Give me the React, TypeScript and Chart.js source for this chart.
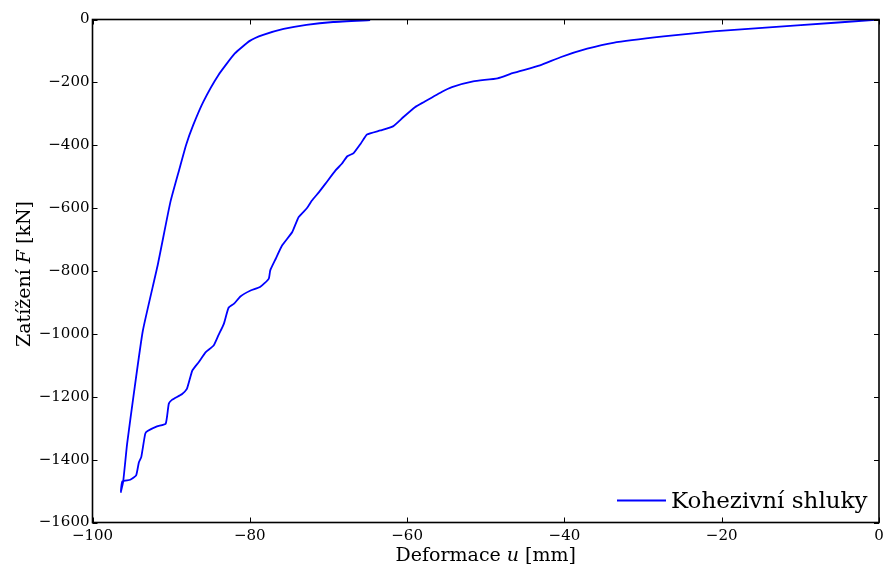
import React, { useEffect, useRef } from "react";
import { Chart, registerables } from "chart.js";

Chart.register(...registerables);

// Loading branch (from origin to maximum deformation)
const loadingU = [
  0, -10.4, -21.1, -27.4, -33.8, -37.1, -40.5, -43.1, -46.5, -48.5, -51.6, -54.3,
  -55.5, -57.9, -59.0, -60.5, -61.8, -63.4, -65.1, -65.9, -66.8, -67.6, -68.3,
  -69.1, -70.4, -71.2, -72.1, -72.7, -73.8, -74.6, -75.9, -76.7, -77.4, -77.6,
  -78.7, -79.9, -81.2, -82.0, -82.7, -83.3, -84.0, -84.6, -85.6, -86.5, -87.3,
  -88.0, -88.6, -89.9, -90.3, -90.7, -91.8, -93.0, -93.3, -93.8, -94.1, -94.45,
  -95.2, -96.2, -96.4,
];
const loadingF = [
  0, -19, -38, -54, -74, -93, -120, -146, -170, -187, -197, -215,
  -229, -263, -279, -311, -340, -353, -366, -395, -425, -435, -459,
  -480, -523, -549, -576, -599, -629, -676, -719, -761, -798, -825,
  -851, -862, -881, -904, -917, -968, -1005, -1037, -1058, -1090, -1116,
  -1175, -1191, -1210, -1222, -1286, -1294, -1309, -1318, -1392, -1408, -1450,
  -1464, -1469, -1503,
];
// Unloading branch (back towards zero load)
const unloadingU = [
  -96.1, -95.6, -94.75, -93.6, -91.7, -90.1, -89.0, -88.1, -87.2, -85.9, -84.0,
  -81.9, -80.0, -78.3, -75.7, -72.8, -69.4, -64.7,
];
const unloadingF = [
  -1470, -1350, -1191, -990, -780, -581, -480, -399, -336, -261, -177,
  -108, -68, -49, -30, -17, -8, -2,
];

const seriesLabel = "Kohezivní shluky";
const xTickValues = [-100, -80, -60, -40, -20, 0];
const yTickValues = [-1600, -1400, -1200, -1000, -800, -600, -400, -200, 0];
const xTitleRuns = [
  { text: "Deformace ", italic: false },
  { text: "u", italic: true },
  { text: " [mm]", italic: false },
];
const yTitleRuns = [
  { text: "Zatížení ", italic: false },
  { text: "F", italic: true },
  { text: " [kN]", italic: false },
];

const FONT = "'DejaVu Serif', serif";
const LINE_COLOR = "#0000ff";

function fmt(v: number) {
  return v < 0 ? "\u2212" + Math.abs(v) : String(v);
}

function drawRuns(ctx: CanvasRenderingContext2D, runs: { text: string; italic: boolean }[], cx: number, y: number, size: number) {
  const widths = runs.map((r) => {
    ctx.font = `${r.italic ? "italic " : ""}${size}px ${FONT}`;
    return ctx.measureText(r.text).width;
  });
  const total = widths.reduce((a, b) => a + b, 0);
  let x = cx - total / 2;
  ctx.textAlign = "left";
  ctx.textBaseline = "alphabetic";
  runs.forEach((r, i) => {
    ctx.font = `${r.italic ? "italic " : ""}${size}px ${FONT}`;
    ctx.fillText(r.text, x, y);
    x += widths[i];
  });
}

const framePlugin = {
  id: "mplFrame",
  afterDatasetsDraw(chart: any) {
    const { ctx, chartArea: a, scales } = chart;
    const xs = scales.x;
    const ys = scales.y;
    ctx.save();
    ctx.strokeStyle = "#000";
    ctx.lineWidth = 1;
    const tl = 5;
    ctx.beginPath();
    for (const v of xTickValues) {
      const p = Math.round(xs.getPixelForValue(v)) + 0.5;
      ctx.moveTo(p, a.bottom);
      ctx.lineTo(p, a.bottom - tl);
      ctx.moveTo(p, a.top);
      ctx.lineTo(p, a.top + tl);
    }
    for (const v of yTickValues) {
      const p = Math.round(ys.getPixelForValue(v)) + 0.5;
      ctx.moveTo(a.left, p);
      ctx.lineTo(a.left + tl, p);
      ctx.moveTo(a.right, p);
      ctx.lineTo(a.right - tl, p);
    }
    ctx.stroke();
    ctx.lineWidth = 1.6;
    ctx.strokeRect(a.left, a.top, a.right - a.left, a.bottom - a.top);

    // legend (bottom-right, no frame)
    const ly = a.bottom - 22;
    ctx.strokeStyle = LINE_COLOR;
    ctx.lineWidth = 1.8;
    ctx.beginPath();
    ctx.moveTo(a.right - 262, ly);
    ctx.lineTo(a.right - 213, ly);
    ctx.stroke();
    ctx.fillStyle = "#000";
    ctx.font = `23px ${FONT}`;
    ctx.textAlign = "left";
    ctx.textBaseline = "alphabetic";
    ctx.fillText(seriesLabel, a.right - 208, a.bottom - 15);

    // axis titles
    drawRuns(ctx, xTitleRuns, (a.left + a.right) / 2, 561, 19);
    ctx.translate(30, (a.top + a.bottom) / 2 + 3);
    ctx.rotate(-Math.PI / 2);
    drawRuns(ctx, yTitleRuns, 0, 0, 19);
    ctx.restore();
  },
};

export default function App() {
  const ref = useRef<HTMLCanvasElement | null>(null);
  useEffect(() => {
    if (!ref.current) return;
    const loading = loadingU.map((u, i) => ({ x: u, y: loadingF[i] }));
    const unloading = unloadingU.map((u, i) => ({ x: u, y: unloadingF[i] }));
    const chart = new Chart(ref.current, {
      type: "scatter",
      data: {
        datasets: [
          {
            label: seriesLabel,
            data: [...loading, ...unloading],
            showLine: true,
            borderColor: LINE_COLOR,
            backgroundColor: LINE_COLOR,
            borderWidth: 1.8,
            pointRadius: 0,
            pointHoverRadius: 0,
            tension: 0.15,
            fill: false,
          },
        ],
      },
      options: {
        responsive: false,
        animation: false,
        events: [],
        layout: { padding: { top: 19.5, right: 4, bottom: 0, left: 0 } },
        plugins: {
          legend: { display: false },
          tooltip: { enabled: false },
        },
        scales: {
          x: {
            type: "linear",
            min: -100,
            max: 0,
            afterBuildTicks: (s: any) => {
              s.ticks = xTickValues.map((v) => ({ value: v }));
            },
            afterFit: (s: any) => {
              s.height = 44.5;
              s.paddingLeft = 0;
              s.paddingRight = 0;
            },
            grid: { display: false, drawTicks: false },
            border: { display: false },
            ticks: {
              padding: 5,
              color: "#000",
              font: { family: FONT, size: 15 },
              maxRotation: 0,
              callback: (v: any) => fmt(Number(v)),
            },
          },
          y: {
            type: "linear",
            min: -1600,
            max: 0,
            afterBuildTicks: (s: any) => {
              s.ticks = yTickValues.map((v) => ({ value: v }));
            },
            afterFit: (s: any) => {
              s.width = 92.5;
              s.paddingTop = 0;
              s.paddingBottom = 0;
            },
            grid: { display: false, drawTicks: false },
            border: { display: false },
            ticks: {
              padding: 3,
              color: "#000",
              font: { family: FONT, size: 15 },
              callback: (v: any) => fmt(Number(v)),
            },
          },
        },
      },
      plugins: [framePlugin],
    });
    return () => chart.destroy();
  }, []);
  return (
    <div style={{ position: "fixed", left: 0, top: 0, width: 883, height: 567, background: "#fff" }}>
      <canvas ref={ref} width={883} height={567} />
    </div>
  );
}
